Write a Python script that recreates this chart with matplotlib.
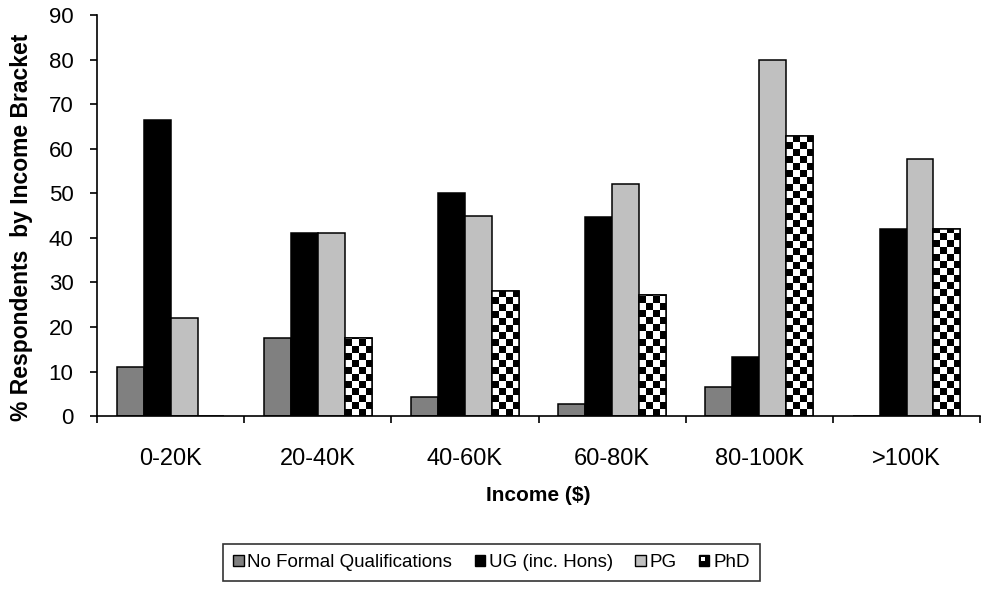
import numpy as np
import matplotlib
matplotlib.use("Agg")
import matplotlib.pyplot as plt
from matplotlib.patches import Patch, Rectangle
from matplotlib.legend_handler import HandlerBase

plt.rcParams['font.family'] = ['Liberation Sans', 'DejaVu Sans']

brackets = ['0-20K', '20-40K', '40-60K', '60-80K', '80-100K', '>100K']
no_formal = [11, 17.5, 4.3, 2.7, 6.6, 0]
ug = [66.5, 41.1, 50, 44.7, 13.2, 42]
pg = [22, 41.1, 45, 52.1, 80, 57.7]
phd = [0, 17.5, 28, 27.2, 62.9, 42]

series = [('No Formal Qualifications', no_formal, '#808080'),
          ('UG (inc. Hons)', ug, '#000000'),
          ('PG', pg, '#c0c0c0'),
          ('PhD', phd, 'white')]


class CheckHandler(HandlerBase):
    # small black square with a white cell, like the checker fill shrunk down
    def create_artists(self, legend, orig_handle, xdescent, ydescent,
                       width, height, fontsize, trans):
        outer = Rectangle((-xdescent, -ydescent), width, height,
                          facecolor='black', edgecolor='black', lw=1.0,
                          transform=trans)
        inner = Rectangle((-xdescent + width * 0.2, -ydescent + height * 0.45),
                          width * 0.35, height * 0.35, facecolor='white',
                          edgecolor='none', transform=trans)
        return [outer, inner]


fig = plt.figure(figsize=(9.92, 5.91), dpi=100)
ax = fig.add_axes([0.0978, 0.296, 0.8902, 0.6786])

x = np.arange(len(brackets))
w = 0.183
bar_sets = []
for i, (name, vals, col) in enumerate(series):
    bars = ax.bar(x + (i - 1.5) * w, vals, w, color=col, edgecolor='black',
                  linewidth=1.1, label=name, zorder=2)
    bar_sets.append(bars)

ax.set_xlim(-0.5, len(brackets) - 0.5)
ax.set_ylim(0, 90)

# checkerboard fill for the PhD bars, clipped to each bar
fig.canvas.draw()
px_per_x = ax.bbox.width / 6.0
px_per_y = ax.bbox.height / 90.0
cell = 7.0
for bar in bar_sets[3]:
    h = bar.get_height()
    if h <= 0:
        continue
    x0 = bar.get_x()
    bw = bar.get_width()
    nx = int(np.ceil(bw * px_per_x / cell)) + 1
    ny = int(np.ceil(h * px_per_y / cell)) + 1
    board = (np.indices((ny, nx)).sum(axis=0) % 2).astype(float)
    ext = [x0, x0 + nx * cell / px_per_x, 0, ny * cell / px_per_y]
    im = ax.imshow(board, cmap='gray', extent=ext, origin='lower',
                   interpolation='nearest', aspect='auto', zorder=2.5)
    im.set_clip_path(bar)
    ax.add_patch(Rectangle((x0, 0), bw, h, fill=False, edgecolor='black',
                           linewidth=1.1, zorder=3))
ax.set_xlim(-0.5, len(brackets) - 0.5)
ax.set_ylim(0, 90)

ax.spines['top'].set_visible(False)
ax.spines['right'].set_visible(False)
ax.spines['left'].set_linewidth(1.2)
ax.spines['bottom'].set_linewidth(1.2)

ax.set_yticks(range(0, 91, 10))
ax.tick_params(axis='y', direction='out', length=5, width=1.2, pad=12, labelsize=16)
ax.set_xticks(np.arange(-0.5, len(brackets), 1.0))
ax.set_xticklabels([])
ax.set_xticks(x, minor=True)
ax.set_xticklabels(brackets, minor=True)
ax.tick_params(axis='x', which='major', direction='out', length=5, width=1.2)
ax.tick_params(axis='x', which='minor', length=0, pad=23, labelsize=17)

ax.set_xlabel('Income ($)', fontsize=15, fontweight='bold')
ax.xaxis.set_label_coords(0.5, -0.175)
ax.set_ylabel('% Respondents  by Income Bracket', fontsize=16.5, fontweight='bold')
ax.yaxis.set_label_coords(-0.0725, 0.47)

handles = [Patch(facecolor='#808080', edgecolor='black'),
           Patch(facecolor='black', edgecolor='black'),
           Patch(facecolor='#c0c0c0', edgecolor='black'),
           Patch(facecolor='black', edgecolor='black')]
leg = fig.legend(handles, [s[0] for s in series], loc='center',
                 bbox_to_anchor=(491.5 / 992, 1 - 562.5 / 591), ncol=4,
                 fontsize=13.5, frameon=True, fancybox=False, edgecolor='black',
                 handlelength=0.55, handleheight=0.55, handletextpad=0.2,
                 columnspacing=1.2, borderpad=0.55,
                 handler_map={handles[3]: CheckHandler()})
leg.get_frame().set_linewidth(1.2)

fig.savefig('out.png', dpi=100)
